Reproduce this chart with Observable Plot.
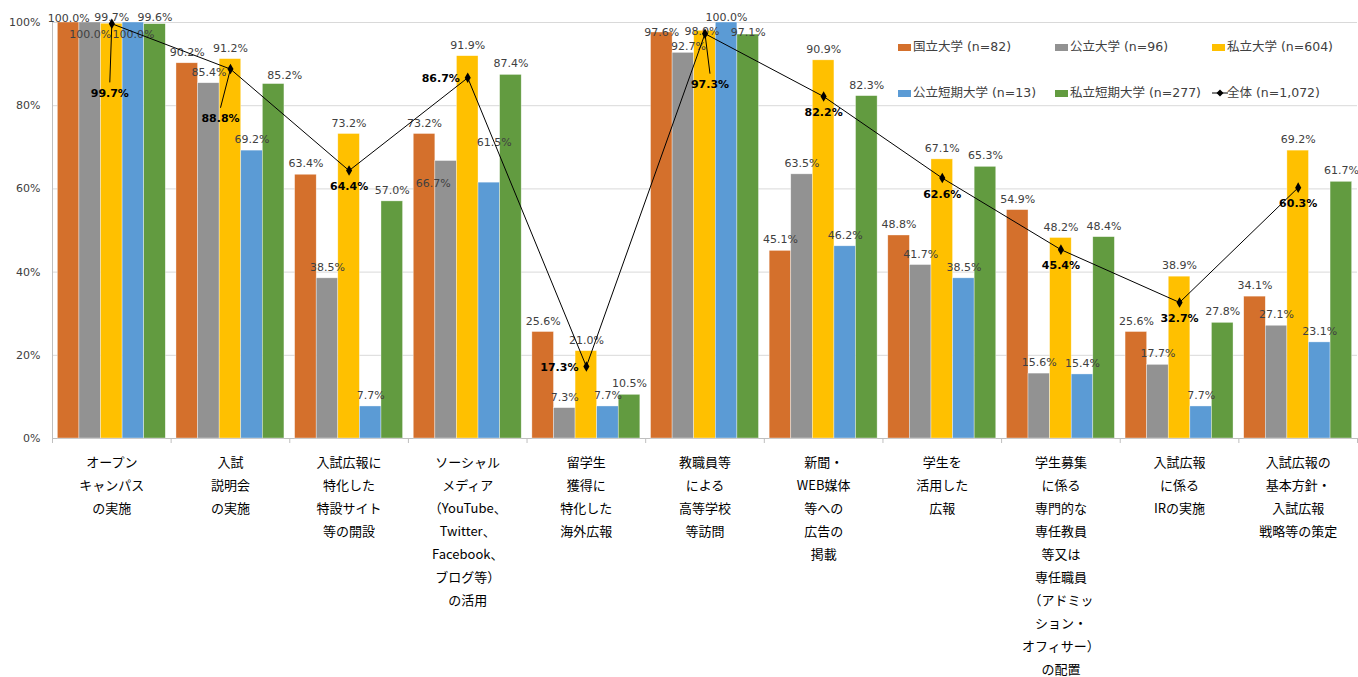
<!DOCTYPE html>
<html><head><meta charset="utf-8">
<script src="https://cdn.jsdelivr.net/npm/d3@7"></script>
<script src="https://cdn.jsdelivr.net/npm/@observablehq/plot@0.6"></script>
<style>
body{margin:0;background:#fff;}
#chart{position:relative;width:1358px;height:677px;overflow:hidden;}
#chart svg{position:absolute;left:0;top:0;background:transparent;}
.lg{position:absolute;font:12.5px "DejaVu Sans","Noto Sans CJK JP",sans-serif;color:#404040;white-space:nowrap;line-height:16px;}
.sw{position:absolute;width:13px;height:7px;}
</style></head><body><div id="chart"></div><script>
// ---- data ----
const categories = [
  "オープン\nキャンパス\nの実施",
  "入試\n説明会\nの実施",
  "入試広報に\n特化した\n特設サイト\n等の開設",
  "ソーシャル\nメディア\n（YouTube、\nTwitter、\nFacebook、\nブログ等）\nの活用",
  "留学生\n獲得に\n特化した\n海外広報",
  "教職員等\nによる\n高等学校\n等訪問",
  "新聞・\nWEB媒体\n等への\n広告の\n掲載",
  "学生を\n活用した\n広報",
  "学生募集\nに係る\n専門的な\n専任教員\n等又は\n専任職員\n（アドミッ\nション・\nオフィサー）\nの配置",
  "入試広報\nに係る\nIRの実施",
  "入試広報の\n基本方針・\n入試広報\n戦略等の策定"
];
const seriesNames = ["国立大学 (n=82)","公立大学 (n=96)","私立大学 (n=604)","公立短期大学 (n=13)","私立短期大学 (n=277)"];
const national  = [100.0, 90.2, 63.4, 73.2, 25.6, 97.6, 45.1, 48.8, 54.9, 25.6, 34.1];
const publicU   = [100.0, 85.4, 38.5, 66.7,  7.3, 92.7, 63.5, 41.7, 15.6, 17.7, 27.1];
const privateU  = [ 99.7, 91.2, 73.2, 91.9, 21.0, 98.0, 90.9, 67.1, 48.2, 38.9, 69.2];
const publicJC  = [100.0, 69.2,  7.7, 61.5,  7.7,100.0, 46.2, 38.5, 15.4,  7.7, 23.1];
const privateJC = [ 99.6, 85.2, 57.0, 87.4, 10.5, 97.1, 82.3, 65.3, 48.4, 27.8, 61.7];
const totalName = "全体 (n=1,072)";
const total     = [ 99.7, 88.8, 64.4, 86.7, 17.3, 97.3, 82.2, 62.6, 45.4, 32.7, 60.3];
const yTicks = [0, 20, 40, 60, 80, 100];

// ---- style / layout ----
const colors = ["#D4702C", "#929292", "#FFC000", "#5B9BD5", "#629B40"];
const W = 1358, H = 677;
const M = {marginTop: 22, marginRight: 1, marginBottom: 239, marginLeft: 52};
const numFont = "DejaVu Sans, Verdana, sans-serif";
const cjkFont = "Noto Sans CJK JP, sans-serif";
// facet band: gap between groups = 0.09 step, half of it at the outer ends
const nCat = categories.length, fxPad = 0.09;
const plotW = W - M.marginLeft - M.marginRight, step = plotW / nCat;
const fxR0 = M.marginLeft + step * fxPad / 2;
const fxRange = [fxR0, fxR0 + step * (nCat - fxPad)];
// label nudges (px) for bar labels, key "cat-series"
const barNudge = {"0-0":[0,7],"0-1":[0,23],"0-2":[0,5],"0-3":[0,23],"0-4":[0,4],
  "1-4":[11,2],"3-1":[-13,33],"3-3":[5,-29],
  "5-0":[0,11],"5-1":[5,5],"5-2":[-3,12],"5-3":[0,6],"5-4":[0,9]};
// total label layout
const totalLeader = {0:{dx:-0.017, y:83.0}, 1:{dx:-0.084, y:76.9}, 5:{dx:0.042, y:85.1}};
const totalLeft = [3, 4];

const valuesBySeries = [national, publicU, privateU, publicJC, privateJC];
const rows = [];
categories.forEach((c, i) => seriesNames.forEach((s, j) => rows.push({i, j, cat: c, series: s, value: valuesBySeries[j][i]})));
const fmt = v => v.toFixed(1) + "%";
const chart = document.getElementById("chart");

// ---- layer A: grid & axes ----
const base = Plot.plot({
  width: W, height: H, ...M,
  style: {fontFamily: numFont, fontSize: "11px", background: "transparent"},
  x: {domain: [0, 11], axis: null},
  y: {domain: [0, 100], axis: null},
  marks: [
    Plot.ruleY(yTicks, {stroke: "#d9d9d9"}),
    Plot.ruleX([0], {stroke: "#bfbfbf"}),
    Plot.ruleY([0], {stroke: "#bfbfbf"}),
    Plot.axisX({ticks: d3.range(0, 12), tickSize: 5, tickFormat: () => "", stroke: "#bfbfbf", label: null}),
    Plot.axisY({ticks: yTicks, tickSize: 0, tickPadding: 12, tickFormat: d => d + "%", fontSize: 11, color: "#404040", label: null})
  ]
});
chart.appendChild(base);

// ---- layer B: bars ----
const key = d => d.i + "-" + d.j;
const txt = {fx: "cat", x: "series", y: "value", text: d => fmt(d.value), fontSize: 11, fill: "#404040", fontFamily: numFont};
const labelMarks = [Plot.text(rows.filter(d => !barNudge[key(d)]), {...txt, dy: -11})];
for (const [k, [dx, dy]] of Object.entries(barNudge)) {
  labelMarks.push(Plot.text(rows.filter(d => key(d) === k), {...txt, dx, dy: -11 + dy}));
}
const bars = Plot.plot({
  width: W, height: H, ...M,
  style: {fontFamily: numFont, fontSize: "11px", background: "transparent"},
  fx: {domain: categories, padding: fxPad, paddingInner: fxPad, paddingOuter: 0, range: fxRange, round: false},
  x: {domain: seriesNames, padding: 0, axis: null, round: false},
  y: {domain: [0, 100], axis: null},
  color: {domain: seriesNames, range: colors},
  marks: [
    Plot.barY(rows, {fx: "cat", x: "series", y: "value", fill: "series", stroke: "#fff", strokeWidth: 0.6, strokeOpacity: 0.6}),
    ...labelMarks,
    Plot.axisFx({anchor: "bottom", tickSize: 0, tickPadding: 12, fontSize: 13, lineHeight: 1.77,
      fontFamily: cjkFont, color: "#000", label: null})
  ]
});
chart.appendChild(bars);

// ---- layer C: total line ----
const tot = total.map((v, i) => ({i, x: i + 0.5, v}));
const totTxt = {x: "x", y: "v", text: d => fmt(d.v), fontSize: 11, fontWeight: "bold", fill: "#000", fontFamily: numFont};
const below = tot.filter(d => !(d.i in totalLeader) && !totalLeft.includes(d.i));
const left = tot.filter(d => totalLeft.includes(d.i));
const lead = tot.filter(d => d.i in totalLeader).map(d => ({...d, lx: d.x + totalLeader[d.i].dx, ly: totalLeader[d.i].y}));
const line = Plot.plot({
  width: W, height: H, ...M,
  style: {fontFamily: numFont, fontSize: "11px", background: "transparent"},
  x: {domain: [0, 11], axis: null},
  y: {domain: [0, 100], axis: null},
  marks: [
    Plot.line(tot, {x: "x", y: "v", stroke: "#000", strokeWidth: 1}),
    Plot.link(lead, {x1: "x", y1: "v", x2: "lx", y2: d => d.ly + 2.6, stroke: "#000", strokeWidth: 1}),
    Plot.dot(tot, {x: "x", y: "v", symbol: "diamond", fill: "#000", r: 3.2}),
    Plot.text(below, {...totTxt, dy: 16}),
    Plot.text(left, {...totTxt, dx: -27, dy: 1}),
    Plot.text(lead, {...totTxt, x: "lx", y: "ly"})
  ]
});
chart.appendChild(line);

// ---- legend ----
const legendCols = [898, 1055, 1212], legendRows = [47, 93];
const items = seriesNames.map((s, j) => ({name: s, color: colors[j]})).concat([{name: totalName, line: true}]);
items.forEach((it, k) => {
  const x = legendCols[k % 3], y = legendRows[Math.floor(k / 3)];
  if (it.line) {
    const s = document.createElementNS("http://www.w3.org/2000/svg", "svg");
    s.setAttribute("width", 16); s.setAttribute("height", 10);
    s.style.cssText = `position:absolute;left:${x}px;top:${y - 5}px;`;
    s.innerHTML = '<line x1="0" y1="5" x2="16" y2="5" stroke="#000" stroke-width="1"/><path d="M8 1.5L11.5 5L8 8.5L4.5 5Z" fill="#000"/>';
    chart.appendChild(s);
  } else {
    const sw = document.createElement("div");
    sw.className = "sw"; sw.style.left = x + "px"; sw.style.top = (y - 3.5) + "px"; sw.style.background = it.color;
    chart.appendChild(sw);
  }
  const t = document.createElement("div");
  t.className = "lg"; t.textContent = it.name;
  t.style.left = (x + 15) + "px"; t.style.top = (y - 8) + "px";
  chart.appendChild(t);
});
</script></body></html>
